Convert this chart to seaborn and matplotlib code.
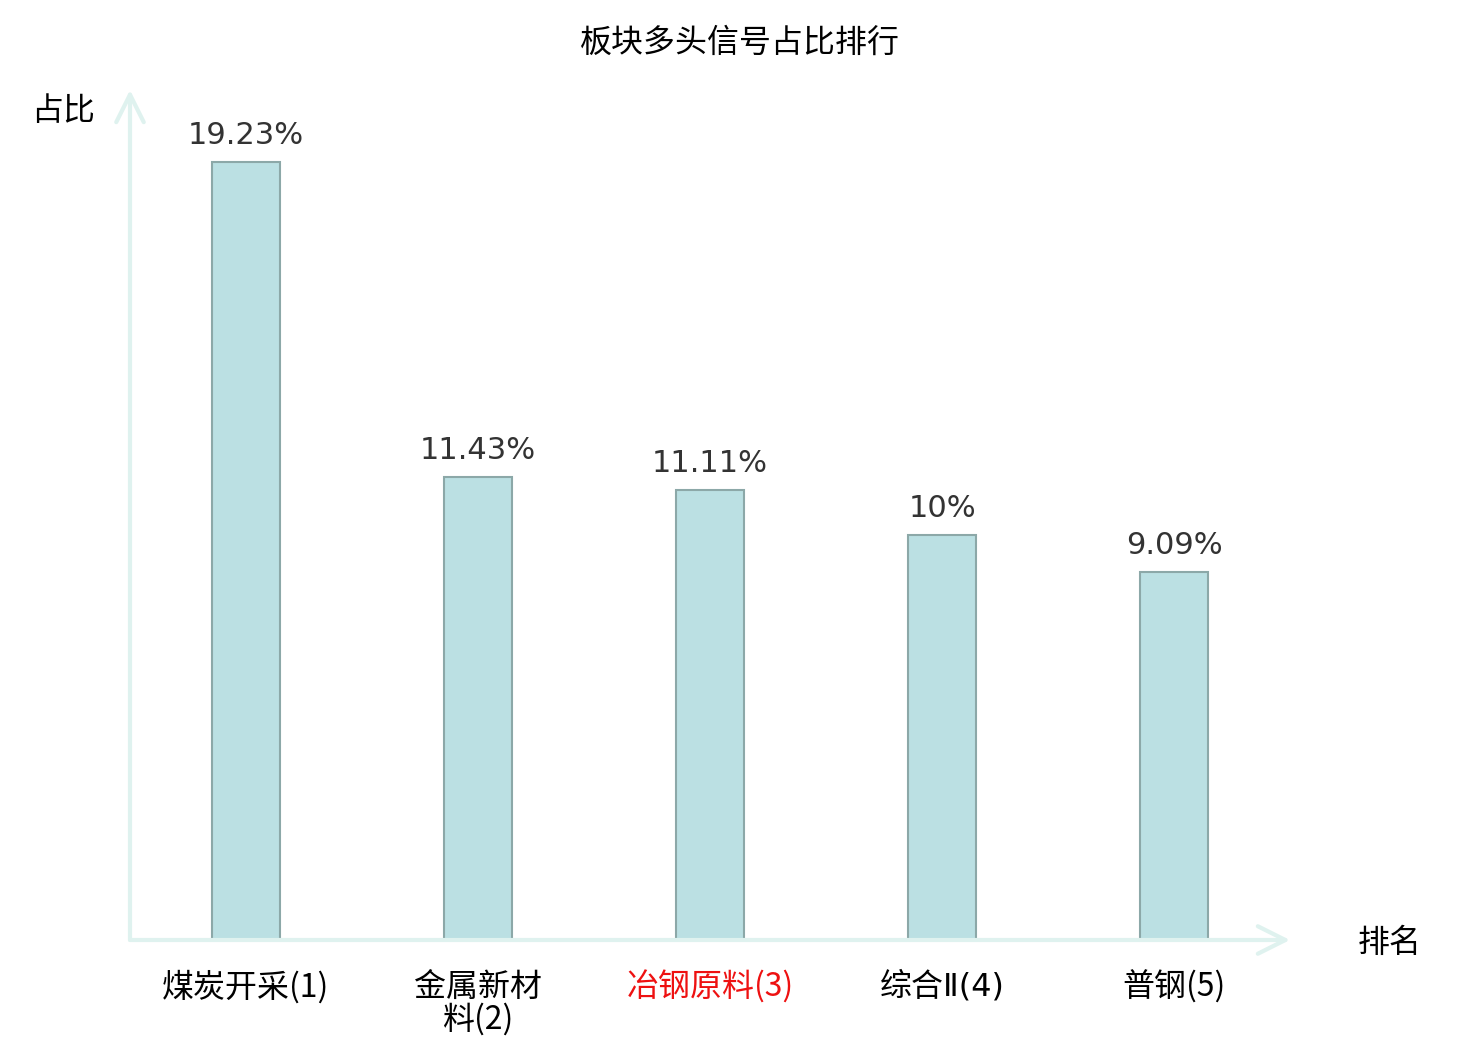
import matplotlib
matplotlib.use('Agg')
import matplotlib.pyplot as plt
import seaborn as sns
import pandas as pd

# 数据
categories = ['煤炭开采(1)', '金属新材料(2)', '冶钢原料(3)', '综合Ⅱ(4)', '普钢(5)']
tick_labels = ['煤炭开采(1)', '金属新材\n料(2)', '冶钢原料(3)', '综合Ⅱ(4)', '普钢(5)']
values = [19.23, 11.43, 11.11, 10.0, 9.09]
value_labels = ['19.23%', '11.43%', '11.11%', '10%', '9.09%']
highlight = '冶钢原料(3)'

df = pd.DataFrame({'板块': categories, '占比': values})

sns.set_style('white')
plt.rcParams['font.family'] = ['Noto Sans CJK SC', 'DejaVu Sans']

fig = plt.figure(figsize=(14.8, 10.4), dpi=100)
ax = fig.add_axes([130 / 1480, 100 / 1040, 1160 / 1480, 850 / 1040])

sns.barplot(data=df, x='板块', y='占比', color='#bbe0e3', edgecolor='#8ca8a8',
            linewidth=1.5, width=0.293, saturation=1, ax=ax)

ax.set_xlim(-0.5, 4.5)
ax.set_ylim(0, 21)
for s in ax.spines.values():
    s.set_visible(False)
ax.set_yticks([])
ax.set_xticks(range(len(categories)))
ax.set_xticklabels(tick_labels, fontsize=23, linespacing=1.0, color='black')
ax.tick_params(axis='x', length=0, pad=22)
for lbl, cat in zip(ax.get_xticklabels(), categories):
    lbl.set_verticalalignment('top')
    if cat == highlight:
        lbl.set_color('#ee1111')
    if 'Ⅱ' in cat:
        # 罗马数字用窄字形
        lbl.set_family(['DejaVu Sans', 'Noto Sans CJK SC'])
ax.set_xlabel('')
ax.set_ylabel('')

# 数值标签
for i, (v, t) in enumerate(zip(values, value_labels)):
    ax.text(i, v + 0.3, t, ha='center', va='bottom', fontsize=22,
            color='#333333', family='DejaVu Sans')

# 坐标轴箭头
axis_color = '#dff2ef'
for end in [(0, 1), (1, 0)]:
    ax.annotate('', xy=end, xytext=(0, 0), xycoords='axes fraction',
                arrowprops=dict(arrowstyle='->,head_length=0.9,head_width=0.45',
                                color=axis_color, lw=3, mutation_scale=22,
                                shrinkA=0, shrinkB=0))

fig.text(63 / 1480, 1 - 111 / 1040, '占比', ha='center', va='center', fontsize=23, color='black')
fig.text(1390 / 1480, 1 - 943 / 1040, '排名', ha='center', va='center', fontsize=23, color='black')
fig.text(740 / 1480, 1 - 43 / 1040, '板块多头信号占比排行', ha='center', va='center',
         fontsize=23, color='black')

fig.savefig('out.png', dpi=100)
